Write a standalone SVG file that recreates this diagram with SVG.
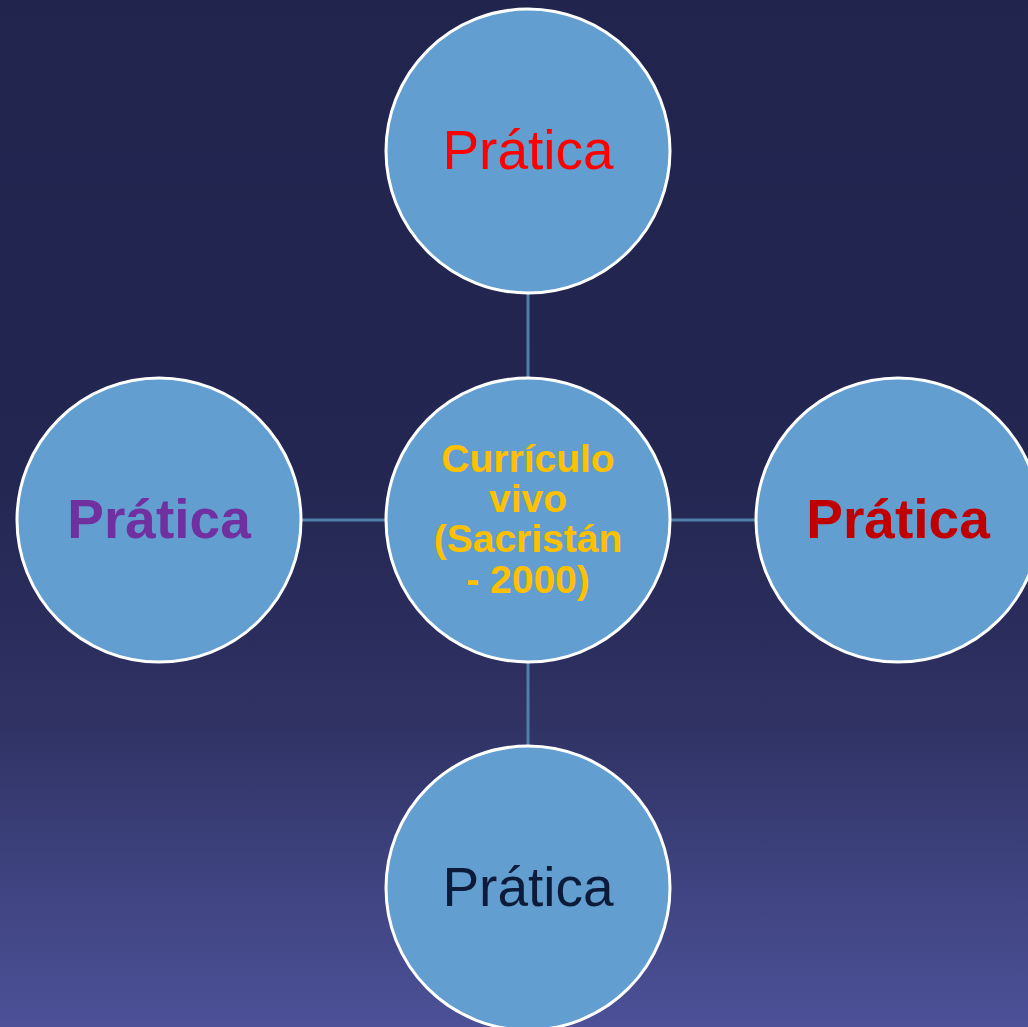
<svg xmlns="http://www.w3.org/2000/svg" width="1028" height="1027" viewBox="0 0 1028 1027">
<defs>
<linearGradient id="bg" x1="0" y1="0" x2="0" y2="1">
<stop offset="0" stop-color="#21244d"/>
<stop offset="0.45" stop-color="#232650"/>
<stop offset="0.7" stop-color="#2f3263"/>
<stop offset="0.85" stop-color="#3e427e"/>
<stop offset="1" stop-color="#4c5198"/>
</linearGradient>
<style>
.node{fill:#629fd0;stroke:#ffffff;stroke-width:3}
.conn{stroke:#4f80a9;stroke-width:3;fill:none}
.t{font-family:"Liberation Sans",Arial,sans-serif;font-size:55px;text-anchor:middle}
.c{font-family:"Liberation Sans",Arial,sans-serif;font-size:39px;font-weight:bold;fill:#ffc000;text-anchor:middle}
</style>
</defs>
<rect x="0" y="0" width="1028" height="1027" fill="url(#bg)"/>
<g id="connectors">
<line class="conn" x1="528" y1="293" x2="528" y2="378"/>
<line class="conn" x1="528" y1="662" x2="528" y2="746"/>
<line class="conn" x1="301" y1="520" x2="386" y2="520"/>
<line class="conn" x1="670" y1="520" x2="756" y2="520"/>
</g>
<g id="node-center">
<circle class="node" cx="528" cy="520" r="142"/>
<text class="c" x="528" y="472">Currículo</text>
<text class="c" x="528" y="512">vivo</text>
<text class="c" x="528" y="552">(Sacristán</text>
<text class="c" x="528" y="593">- 2000)</text>
</g>
<g id="node-top">
<circle class="node" cx="528" cy="151" r="142"/>
<text class="t" x="528" y="169" fill="#ff0000">Prática</text>
</g>
<g id="node-left">
<circle class="node" cx="159" cy="520" r="142"/>
<text class="t" x="159" y="538" fill="#7030a0" font-weight="bold">Prática</text>
</g>
<g id="node-right">
<circle class="node" cx="898" cy="520" r="142"/>
<text class="t" x="898" y="538" fill="#c00000" font-weight="bold">Prática</text>
</g>
<g id="node-bottom">
<circle class="node" cx="528" cy="888" r="142"/>
<text class="t" x="528" y="906" fill="#0d1b3a">Prática</text>
</g>
</svg>
